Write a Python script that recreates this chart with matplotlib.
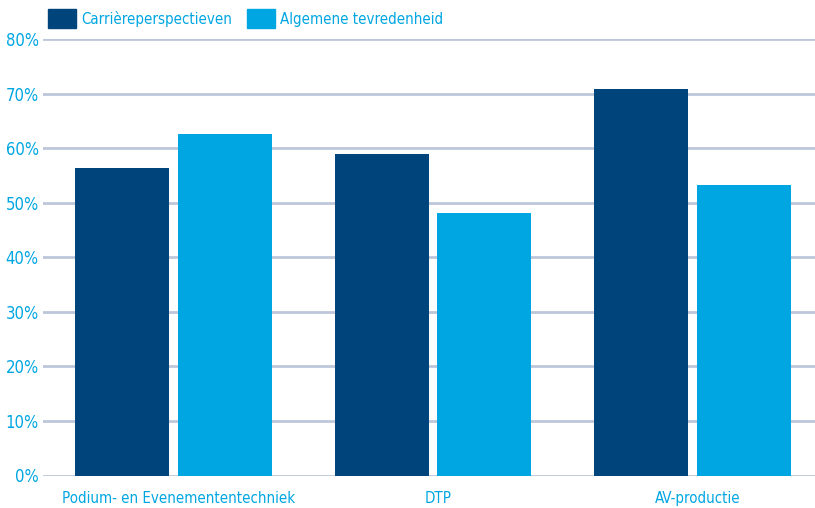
import matplotlib.pyplot as plt
import matplotlib.transforms as mtransforms
from matplotlib.patches import Patch
import numpy as np

categories = ['Podium- en Evenemententechniek', 'DTP', 'AV-productie']
carriere = [56.3, 58.9, 70.8]
tevredenheid = [62.6, 48.1, 53.2]
series_names = ['Carrièreperspectieven', 'Algemene tevredenheid']
yticks = [0, 10, 20, 30, 40, 50, 60, 70, 80]

dark = '#00447c'
light = '#00a6e2'
grid_col = '#bcc7db'

plt.rcParams['font.family'] = ['Liberation Sans Narrow', 'DejaVu Sans']
plt.rcParams['font.stretch'] = 'condensed'

fig = plt.figure(figsize=(8.15, 5.08), dpi=100)
ax = fig.add_axes([43 / 815, 1 - 475.5 / 508, (815 - 43) / 815, (475.5 - 39) / 508])

x = np.arange(len(categories))
w = 0.362
off = 0.198
ax.bar(x - off, carriere, w, color=dark, zorder=3)
ax.bar(x + off, tevredenheid, w, color=light, zorder=3)

ax.set_xlim(-0.503, 2.472)
ax.set_ylim(0, 80)
ax.set_yticks(yticks)
ax.set_yticklabels([f'{t}%' for t in yticks], color=light, fontsize=12)
ax.yaxis.grid(True, color=grid_col, linewidth=2, zorder=0)
ax.tick_params(axis='y', length=0, pad=3)
ax.set_xticks(x)
ax.set_xticklabels(categories, color=light, fontsize=10.8)
ax.tick_params(axis='x', length=0, pad=11)
shift = mtransforms.ScaledTranslation(5 / 100, 0, fig.dpi_scale_trans)
for lab in ax.get_xticklabels():
    lab.set_transform(lab.get_transform() + shift)
for s in ax.spines.values():
    s.set_visible(False)

handles = [Patch(color=dark), Patch(color=light)]
fig.legend(handles, series_names, loc='upper left', bbox_to_anchor=(45 / 815, 1 - 6 / 508),
           ncol=2, frameon=False, fontsize=10.8, labelcolor=light,
           handlelength=1.85, handleheight=1.6, handletextpad=0.35, columnspacing=1.0,
           borderaxespad=0, borderpad=0.2)

plt.savefig('out.png', dpi=100)
